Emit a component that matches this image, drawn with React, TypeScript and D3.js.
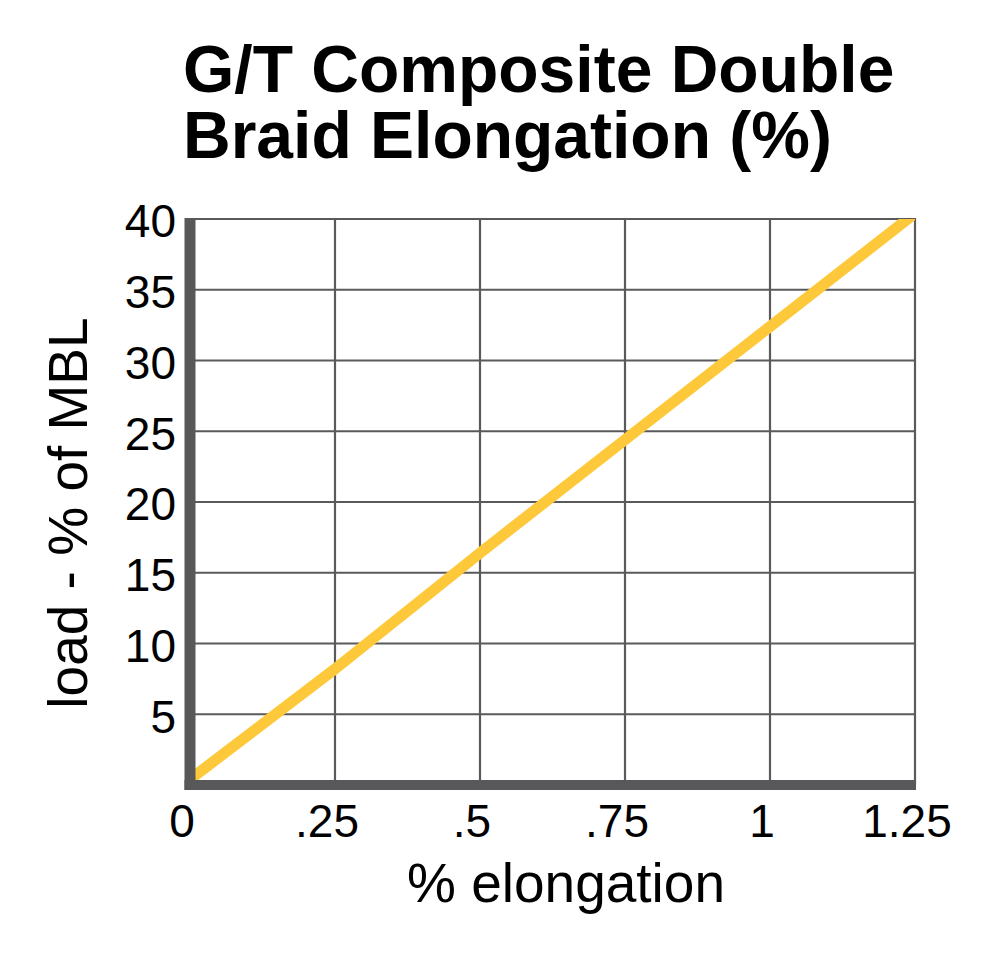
import React, { useEffect, useRef } from 'react'
import * as d3 from 'd3'

// values
const elongation = [0, 0.25, 0.5, 0.75, 1, 1.25]
const load = [0.4, 8.2, 16.4, 24.4, 32.4, 40.4]

const xTicks = [0, 0.25, 0.5, 0.75, 1, 1.25]
const xTickLabels = ['0', '.25', '.5', '.75', '1', '1.25']
const yTicks = [5, 10, 15, 20, 25, 30, 35, 40]

const titleLines = ['G/T Composite Double', 'Braid Elongation (%)']
const xTitle = '% elongation'
const yTitle = 'load - % of MBL'

const FONT = '"Liberation Sans", Arial, Helvetica, sans-serif'
const GRID = '#5a5a5c'
const AXIS = '#58585a'
const LINE = '#fdc93b'

function ElongationChart() {
  const svgRef = useRef<SVGSVGElement>(null)

  useEffect(() => {
    if (!svgRef.current) return
    const svg = d3.select(svgRef.current)
    svg.selectAll('*').remove()

    const width = 1000
    const height = 961

    const x = d3.scaleLinear().domain([0, 1.25]).range([190, 915])
    const y = d3.scaleLinear().domain([0, 40]).range([785, 219])

    svg.append('rect').attr('width', width).attr('height', height).attr('fill', '#fff')

    // title
    svg
      .append('g')
      .selectAll('text')
      .data(titleLines)
      .join('text')
      .attr('x', 183)
      .attr('y', (d, i) => 92 + i * 66)
      .style('font-family', FONT)
      .style('font-weight', '700')
      .style('font-size', '66px')
      .style('fill', '#000')
      .text((d) => d)

    // grid
    const grid = svg.append('g')
    grid
      .selectAll('line.h')
      .data(yTicks)
      .join('line')
      .attr('class', 'h')
      .attr('x1', x(0))
      .attr('x2', x(1.25) + 1)
      .attr('y1', (d) => y(d))
      .attr('y2', (d) => y(d))
      .attr('stroke', GRID)
      .attr('stroke-width', 2.2)

    grid
      .selectAll('line.v')
      .data(xTicks.slice(1))
      .join('line')
      .attr('class', 'v')
      .attr('x1', (d) => x(d))
      .attr('x2', (d) => x(d))
      .attr('y1', y(40) - 1)
      .attr('y2', y(0))
      .attr('stroke', GRID)
      .attr('stroke-width', 2.2)

    // data line, clipped to the plot
    svg
      .append('clipPath')
      .attr('id', 'plot-clip')
      .append('rect')
      .attr('x', x(0))
      .attr('y', y(40))
      .attr('width', x(1.25) - x(0))
      .attr('height', y(0) - y(40))

    const pts = elongation.map((e, i) => [e, load[i]] as [number, number])
    const lineGen = d3
      .line<[number, number]>()
      .x((d) => x(d[0]))
      .y((d) => y(d[1]))

    svg
      .append('path')
      .datum(pts)
      .attr('clip-path', 'url(#plot-clip)')
      .attr('d', lineGen)
      .attr('fill', 'none')
      .attr('stroke', LINE)
      .attr('stroke-width', 11)

    // thick axes
    svg
      .append('line')
      .attr('x1', x(0))
      .attr('x2', x(0))
      .attr('y1', y(40) - 1)
      .attr('y2', y(0) + 5)
      .attr('stroke', AXIS)
      .attr('stroke-width', 11)

    svg
      .append('line')
      .attr('x1', x(0) - 5.5)
      .attr('x2', x(1.25) + 1)
      .attr('y1', y(0))
      .attr('y2', y(0))
      .attr('stroke', AXIS)
      .attr('stroke-width', 10)

    // tick labels
    svg
      .append('g')
      .selectAll('text')
      .data(yTicks)
      .join('text')
      .attr('x', 176)
      .attr('y', (d) => y(d))
      .attr('dy', '0.4em')
      .attr('text-anchor', 'end')
      .style('font-family', FONT)
      .style('font-size', '46px')
      .style('fill', '#000')
      .text((d) => String(d))

    svg
      .append('g')
      .selectAll('text')
      .data(xTicks)
      .join('text')
      .attr('x', (d) => x(d) - 8)
      .attr('y', 837)
      .attr('text-anchor', 'middle')
      .style('font-family', FONT)
      .style('font-size', '46px')
      .style('fill', '#000')
      .text((d, i) => xTickLabels[i])

    // axis titles
    svg
      .append('text')
      .attr('x', 566)
      .attr('y', 902)
      .attr('text-anchor', 'middle')
      .style('font-family', FONT)
      .style('font-size', '55px')
      .style('fill', '#000')
      .text(xTitle)

    svg
      .append('text')
      .attr('transform', 'translate(87,513) rotate(-90)')
      .attr('text-anchor', 'middle')
      .style('font-family', FONT)
      .style('font-size', '55px')
      .style('fill', '#000')
      .text(yTitle)
  }, [])

  return (
    <svg
      ref={svgRef}
      width={1000}
      height={961}
      style={{ position: 'absolute', left: 0, top: 0, display: 'block' }}
    />
  )
}

export default function App() {
  return <ElongationChart />
}
